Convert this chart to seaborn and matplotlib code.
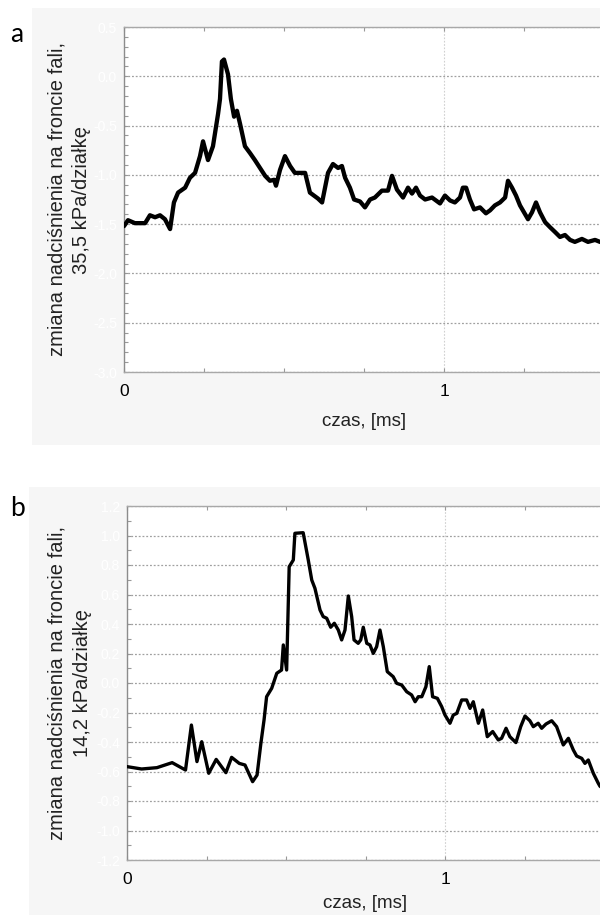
import numpy as np
import pandas as pd
import seaborn as sns
import matplotlib
matplotlib.use("Agg")
import matplotlib.pyplot as plt
from matplotlib.patches import Rectangle
from matplotlib.ticker import MultipleLocator, FormatStrFormatter

# ---------------- data ----------------
time_a = [0.000, 0.0125, 0.034, 0.066, 0.081, 0.097, 0.1125, 0.128, 0.144, 0.156,
          0.169, 0.191, 0.206, 0.222, 0.2375, 0.247, 0.2625, 0.278, 0.294, 0.300,
          0.306, 0.3125, 0.325, 0.334, 0.344, 0.353, 0.3625, 0.378, 0.394, 0.409,
          0.425, 0.441, 0.456, 0.469, 0.475, 0.4875, 0.503, 0.519, 0.534, 0.55,
          0.566, 0.581, 0.606, 0.619, 0.6375, 0.653, 0.669, 0.681, 0.691, 0.706,
          0.719, 0.7375, 0.753, 0.769, 0.784, 0.806, 0.825, 0.8375, 0.853, 0.872,
          0.8875, 0.9, 0.9125, 0.925, 0.941, 0.9625, 0.9875, 1.003, 1.019, 1.034,
          1.05, 1.059, 1.069, 1.081, 1.094, 1.1125, 1.131, 1.144, 1.159, 1.175,
          1.191, 1.2, 1.2125, 1.225, 1.2375, 1.25, 1.2625, 1.275, 1.2875, 1.3,
          1.316, 1.331, 1.347, 1.3625, 1.378, 1.394, 1.409, 1.431, 1.45, 1.472,
          1.4875, 1.5]
press_a = [-1.52, -1.46, -1.49, -1.49, -1.41, -1.43, -1.41, -1.45, -1.55, -1.28,
           -1.18, -1.13, -1.03, -0.98, -0.81, -0.66, -0.85, -0.71, -0.38, -0.23,
           0.15, 0.17, 0.02, -0.23, -0.41, -0.35, -0.48, -0.71, -0.78, -0.85,
           -0.93, -1.01, -1.06, -1.05, -1.11, -0.95, -0.81, -0.91, -0.98, -0.98,
           -0.98, -1.18, -1.24, -1.28, -0.98, -0.89, -0.93, -0.91, -1.03, -1.13,
           -1.25, -1.27, -1.33, -1.25, -1.23, -1.16, -1.16, -1.01, -1.15, -1.23,
           -1.13, -1.19, -1.13, -1.21, -1.25, -1.23, -1.29, -1.21, -1.26, -1.28,
           -1.23, -1.13, -1.13, -1.25, -1.35, -1.33, -1.39, -1.36, -1.31, -1.28,
           -1.23, -1.06, -1.13, -1.21, -1.31, -1.38, -1.45, -1.38, -1.28, -1.38,
           -1.48, -1.53, -1.58, -1.63, -1.61, -1.66, -1.68, -1.65, -1.68, -1.66,
           -1.68, -1.68]

time_b = [0.000, 0.046, 0.094, 0.142, 0.184, 0.2025, 0.220, 0.235, 0.257, 0.2805,
          0.311, 0.329, 0.353, 0.371, 0.395, 0.409, 0.421, 0.431, 0.439, 0.455,
          0.471, 0.486, 0.4915, 0.502, 0.510, 0.523, 0.528, 0.554, 0.570, 0.581,
          0.591, 0.607, 0.617, 0.628, 0.6405, 0.652, 0.6645, 0.675, 0.6855, 0.696,
          0.7065, 0.714, 0.727, 0.735, 0.743, 0.754, 0.764, 0.7745, 0.785, 0.7955,
          0.806, 0.8185, 0.837, 0.848, 0.864, 0.8795, 0.895, 0.906, 0.916, 0.927,
          0.940, 0.9505, 0.961, 0.976, 0.9895, 1.0, 1.0157, 1.026, 1.037, 1.0525,
          1.068, 1.0786, 1.089, 1.105, 1.1185, 1.133, 1.150, 1.1676, 1.178, 1.192,
          1.204, 1.223, 1.238, 1.2516, 1.267, 1.2777, 1.293, 1.304, 1.3176, 1.3355,
          1.351, 1.372, 1.388, 1.4035, 1.414, 1.43, 1.440, 1.4506, 1.4664, 1.482,
          1.4874, 1.5]
press_b = [-0.567, -0.583, -0.574, -0.54, -0.59, -0.285, -0.533, -0.398, -0.612, -0.518,
           -0.608, -0.504, -0.545, -0.556, -0.669, -0.624, -0.409, -0.25, -0.093, -0.036,
           0.066, 0.088, 0.258, 0.088, 0.788, 0.834, 1.015, 1.019, 0.834, 0.698,
           0.642, 0.495, 0.45, 0.439, 0.378, 0.405, 0.359, 0.292, 0.359, 0.59,
           0.45, 0.292, 0.269, 0.292, 0.378, 0.269, 0.258, 0.201, 0.246, 0.359,
           0.246, 0.077, 0.043, -0.002, -0.014, -0.059, -0.081, -0.127, -0.093, -0.093,
           -0.025, 0.111, -0.093, -0.104, -0.16, -0.217, -0.273, -0.217, -0.206, -0.115,
           -0.115, -0.172, -0.127, -0.273, -0.183, -0.364, -0.329, -0.386, -0.375, -0.307,
           -0.364, -0.404, -0.296, -0.224, -0.256, -0.296, -0.273, -0.307, -0.278, -0.256,
           -0.296, -0.42, -0.375, -0.454, -0.495, -0.511, -0.545, -0.522, -0.612, -0.68,
           -0.70, -0.72]

x_tick_labels = ["0", "1"]
ylabel_a = "zmiana nadciśnienia na froncie fali,\n35,5 kPa/działkę"
ylabel_b = "zmiana nadciśnienia na froncie fali,\n14,2 kPa/działkę"
xlabel = "czas, [ms]"

# ---------------- style ----------------
sns.set_theme(style="white")
plt.rcParams["font.family"] = ["Liberation Sans", "DejaVu Sans"]

W, H = 600, 915
fig = plt.figure(figsize=(W / 100, H / 100), dpi=100)
fig.patch.set_facecolor("white")

BG = "#f6f6f6"


def px_rect(x0, y0, x1, y1):
    r = Rectangle((x0 / W, 1 - y1 / H), (x1 - x0) / W, (y1 - y0) / H,
                  transform=fig.transFigure, facecolor=BG, edgecolor="none")
    r.set_zorder(-10)
    return r


fig.add_artist(px_rect(32, 8, 600, 445))
fig.add_artist(px_rect(29, 487, 600, 915))


def make_axes(left_px, top_px, bottom_px, px_per_ms):
    width_px = px_per_ms * 1.5
    ax = fig.add_axes([left_px / W, 1 - bottom_px / H, width_px / W,
                       (bottom_px - top_px) / H])
    ax.set_zorder(1)
    return ax


def style_axes(ax, ylim, ymajor, yfmt, ylab, xlab_y):
    ax.set_facecolor("white")
    ax.set_xlim(0, 1.5)
    ax.set_ylim(*ylim)
    ax.set_xticks([0, 1])
    ax.set_xticklabels(x_tick_labels)
    ax.xaxis.set_minor_locator(MultipleLocator(0.25))
    ax.yaxis.set_major_locator(MultipleLocator(ymajor))
    ax.yaxis.set_minor_locator(MultipleLocator(0.1))
    ax.yaxis.set_major_formatter(FormatStrFormatter(yfmt))
    ax.tick_params(axis="x", which="both", direction="in", top=True, bottom=True,
                   color="#999999", labelsize=12.5, pad=9, length=3, width=0.8)
    ax.tick_params(axis="x", labelcolor="black")
    ax.tick_params(axis="y", which="both", direction="in", left=True, right=False,
                   color="#999999", labelsize=10, pad=5, length=3, width=0.8)
    for lab in ax.get_yticklabels():
        lab.set_color("#ffffff")
    ax.grid(axis="y", which="major", color="#a0a0a0", linestyle=(0, (1.5, 1.5)),
            linewidth=0.9)
    ax.grid(axis="x", which="major", color="#d0d0d0", linestyle=(0, (1.5, 1.5)),
            linewidth=0.8)
    for side, sp in ax.spines.items():
        sp.set_visible(True)
        sp.set_color("#a8a8a8")
        sp.set_linewidth(1.0)
    ax.spines["left"].set_color("#8c8c8c")
    ax.set_xlabel(xlabel, fontsize=13.5, color="#222222")
    ax.xaxis.set_label_coords(0.5, xlab_y)
    ax.set_ylabel(ylab, fontsize=14.5, color="#222222", linespacing=1.4,
                  multialignment="center")


# ---------------- panel a ----------------
ax_a = make_axes(124, 27, 372, 320)
df_a = pd.DataFrame({"czas": time_a, "p": press_a})
sns.lineplot(data=df_a, x="czas", y="p", ax=ax_a, color="black", linewidth=3.1,
             sort=False, estimator=None, zorder=5)
style_axes(ax_a, (-3.0, 0.5), 0.5, "%.1f", ylabel_a, -0.118)
ax_a.yaxis.set_label_coords(-0.068, 0.5)

# ---------------- panel b ----------------
ax_b = make_axes(127, 506, 860, 318)
df_b = pd.DataFrame({"czas": time_b, "p": press_b})
sns.lineplot(data=df_b, x="czas", y="p", ax=ax_b, color="black", linewidth=2.4,
             sort=False, estimator=None, zorder=5)
style_axes(ax_b, (-1.2, 1.2), 0.2, "%.1f", ylabel_b, -0.1)
ax_b.yaxis.set_label_coords(-0.074, 0.5)

# ---------------- panel letters ----------------
fig.text(17 / W, 1 - 35 / H, "a", fontsize=19, family=["Lato", "DejaVu Sans"],
         ha="center", va="center", color="black")
fig.text(17 / W, 1 - 508 / H, "b", fontsize=19, family=["Lato", "DejaVu Sans"],
         ha="center", va="center", color="black")

fig.savefig("out.png", dpi=100, facecolor="white")
